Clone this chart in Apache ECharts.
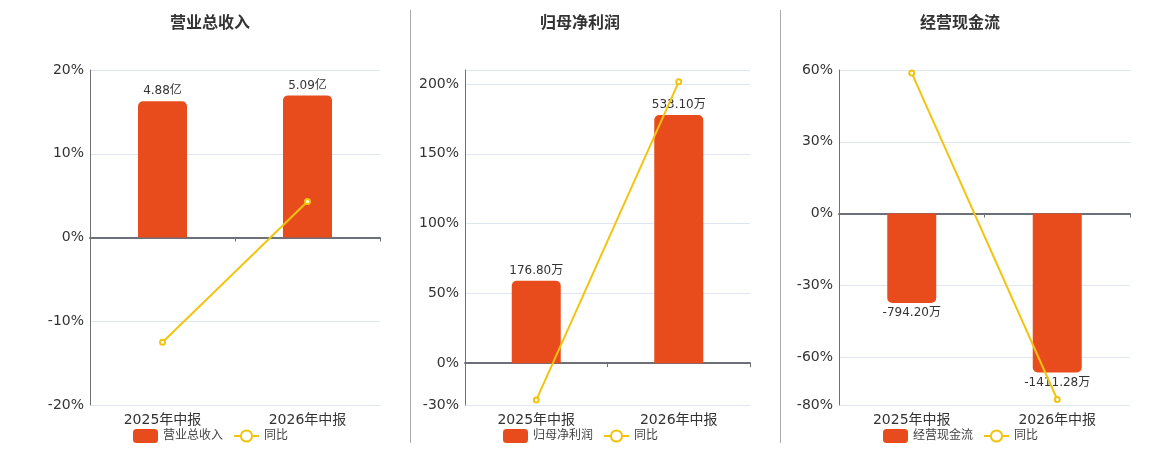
<!DOCTYPE html>
<html>
<head>
<meta charset="utf-8">
<script src="https://cdn.jsdelivr.net/npm/echarts@6/dist/echarts.min.js"></script>
<style>
  html, body { margin: 0; padding: 0; background: #fff; }
  #chart { width: 1160px; height: 450px; }
</style>
</head>
<body>
<div id="chart"></div>
<script>
// data
const periods = ['2025年中报', '2026年中报']

const titles = ['营业总收入', '归母净利润', '经营现金流']
const units = ['亿', '万', '万']

const revenue = [4.88, 5.09]
const revenueYoy = [-12.5, 4.3]

const netProfit = [176.80, 533.10]
const netProfitYoy = [-26.5, 201.5]

const cashFlow = [-794.20, -1411.28]
const cashFlowYoy = [58.7, -77.7]

// percent axis ranges and hidden value axis ranges (zero aligned)
const pctRange = [[-20, 20], [-30, 210], [-80, 60]]
const valRange = [[-6, 6], [-90, 630], [-1700, 1275]]

const barValues = [revenue, netProfit, cashFlow]
const yoyValues = [revenueYoy, netProfitYoy, cashFlowYoy]

const grids = [
  { left: 90, width: 290, top: 70, height: 335 },
  { left: 465, width: 285, top: 70, height: 335 },
  { left: 839, width: 291, top: 70, height: 335 }
]
const centers = [210, 580, 960]

const BAR = '#e84c1c'
const LINE = '#f2c40f'
const TEXT = '#333'
const FONT = '"DejaVu Sans", "Noto Sans CJK SC", sans-serif'

const chart = echarts.init(document.getElementById('chart'), null, { renderer: 'canvas' })

const xAxis = []
const yAxis = []
const series = []
const title = []
const legend = []

grids.forEach((g, i) => {
  // labels at the bottom of the grid
  xAxis.push({
    type: 'category', gridIndex: i, data: periods, position: 'bottom',
    axisLine: { show: false, onZero: false },
    axisTick: { show: false },
    axisLabel: { color: TEXT, fontSize: 14, margin: 8 }
  })
  // zero line with ticks
  xAxis.push({
    type: 'category', gridIndex: i, data: periods, position: 'bottom',
    axisLine: { onZero: true, lineStyle: { color: '#6e7079', width: 2 } },
    axisTick: { show: true, length: 4, lineStyle: { color: '#6e7079' } },
    axisLabel: { show: false }
  })
  yAxis.push({
    type: 'value', gridIndex: i,
    min: pctRange[i][0], max: pctRange[i][1],
    axisLine: { show: true, lineStyle: { color: '#6e7079' } },
    axisTick: { show: false },
    axisLabel: { color: TEXT, fontSize: 14, margin: 6, formatter: '{value}%', showMaxLabel: i !== 1 },
    splitLine: { lineStyle: { color: '#e0e6f1' } }
  })
  yAxis.push({
    type: 'value', gridIndex: i, show: false,
    min: valRange[i][0], max: valRange[i][1],
    splitLine: { show: false }
  })

  series.push({
    name: titles[i], type: 'bar',
    xAxisIndex: i * 2, yAxisIndex: i * 2 + 1,
    barWidth: 49,
    data: barValues[i].map(v => ({
      value: v,
      itemStyle: { borderRadius: v >= 0 ? [5, 5, 0, 0] : [0, 0, 5, 5] },
      label: { position: v >= 0 ? 'top' : 'bottom' }
    })),
    itemStyle: { color: BAR },
    label: {
      show: true, color: TEXT, fontSize: 12, distance: 4,
      formatter: p => p.value.toFixed(2) + units[i]
    }
  })
  series.push({
    name: '同比', type: 'line',
    xAxisIndex: i * 2, yAxisIndex: i * 2,
    data: yoyValues[i],
    z: 5,
    symbol: 'emptyCircle', symbolSize: 5,
    lineStyle: { color: LINE, width: 2 },
    itemStyle: { color: LINE, borderWidth: 1.5 }
  })

  title.push({
    text: titles[i], left: centers[i] - 5, top: 9, textAlign: 'center',
    textStyle: { fontSize: 16, fontWeight: 'bold', color: TEXT, fontFamily: '"Noto Sans CJK SC", sans-serif' }
  })
  legend.push({
    data: [titles[i], '同比'],
    left: centers[i] - 82, top: 424,
    itemWidth: 25, itemHeight: 14, itemGap: 10,
    textStyle: { color: '#444', fontSize: 12 }
  })
})

chart.setOption({
  animation: false,
  textStyle: { fontFamily: FONT },
  title,
  legend,
  grid: grids,
  xAxis,
  yAxis,
  series,
  graphic: [
    { type: 'line', shape: { x1: 410.5, y1: 10, x2: 410.5, y2: 443 }, style: { stroke: '#aaa', lineWidth: 1 } },
    { type: 'line', shape: { x1: 780.5, y1: 10, x2: 780.5, y2: 443 }, style: { stroke: '#aaa', lineWidth: 1 } }
  ]
})
</script>
</body>
</html>
